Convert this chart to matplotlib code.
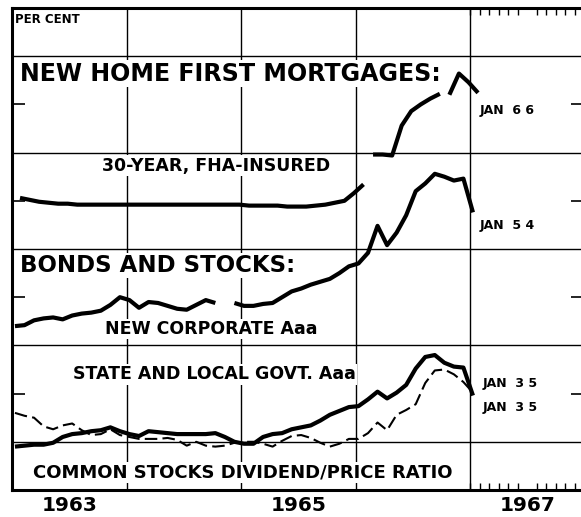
import numpy as np
import matplotlib
matplotlib.use("Agg")
import matplotlib.pyplot as plt

# ---- data: monthly, Jan 1963 .. Jan 1967 (per cent) ----
months = np.arange(49)

mortgage = [5.53, 5.51, 5.49, 5.48, 5.47, 5.47, 5.46, 5.46, 5.46, 5.46, 5.46, 5.46,
            5.46, 5.46, 5.46, 5.46, 5.46, 5.46, 5.46, 5.46, 5.46, 5.46, 5.46, 5.46,
            5.45, 5.45, 5.45, 5.45, 5.44, 5.44, 5.44, 5.45, 5.46, 5.48, 5.50, 5.58,
            5.67, 5.98, 5.98, 5.97, 6.28, 6.43, 6.50, 6.56, 6.61, 6.60, 6.82, 6.73,
            6.62]
mortgage_segments = [(0, 36), (37, 44), (45, 48)]

corporate = [4.20, 4.21, 4.26, 4.28, 4.29, 4.27, 4.31, 4.33, 4.34, 4.36, 4.42, 4.50,
             4.47, 4.39, 4.45, 4.44, 4.41, 4.38, 4.37, 4.42, 4.47, 4.44, np.nan, 4.44,
             4.41, 4.41, 4.43, 4.44, 4.50, 4.56, 4.59, 4.63, 4.66, 4.69, 4.75, 4.82,
             4.85, 4.96, 5.24, 5.04, 5.17, 5.35, 5.60, 5.68, 5.78, 5.75, 5.71, 5.73,
             5.38]

state_local = [2.95, 2.96, 2.97, 2.97, 2.99, 3.05, 3.08, 3.09, 3.11, 3.12, 3.15, 3.11,
               3.08, 3.06, 3.11, 3.10, 3.09, 3.08, 3.08, 3.08, 3.08, 3.09, 3.05, 3.00,
               2.98, 2.98, 3.05, 3.08, 3.09, 3.13, 3.15, 3.17, 3.22, 3.28, 3.32, 3.36,
               3.37, 3.44, 3.52, 3.45, 3.51, 3.59, 3.76, 3.88, 3.90, 3.82, 3.78, 3.77,
               3.48]

dividend = [3.30, 3.27, 3.25, 3.16, 3.13, 3.17, 3.19, 3.12, 3.07, 3.08, 3.13, 3.07,
            3.05, 3.03, 3.03, 3.03, 3.04, 3.02, 2.96, 3.00, 2.96, 2.95, 2.96, 2.99,
            3.00, 3.00, 2.98, 2.95, 3.01, 3.06, 3.07, 3.04, 2.99, 2.95, 2.98, 3.03,
            3.03, 3.09, 3.20, 3.12, 3.28, 3.33, 3.39, 3.61, 3.74, 3.75, 3.70, 3.62,
            3.51]

year_labels = ["1963", "1965", "1967"]
year_label_pos = [1963.5, 1965.5, 1967.5]
grid_years = [1964, 1965, 1966, 1967]
grid_pct = [3, 4, 5, 6, 7]
mid_ticks = [3.5, 4.5, 5.5, 6.5]

plt.rcParams['font.family'] = ['DejaVu Sans']

fig = plt.figure(figsize=(5.81, 5.17), dpi=100)
ax = fig.add_axes([12 / 581, 27 / 517, 572.5 / 581, 482 / 517])
ax.set_xlim(1963, 1968)
ax.set_ylim(2.5, 7.5)


def xpos(idx, off=0.31):
    return 1963 + (np.asarray(idx, dtype=float) + off) / 12.0


# frame
for s in ['left', 'top', 'bottom']:
    ax.spines[s].set_linewidth(2.2)
ax.spines['right'].set_visible(False)

# grid
for g in grid_pct:
    ax.axhline(g, color='black', lw=1.0, zorder=1)
for g in grid_years:
    ax.axvline(g, color='black', lw=1.0, zorder=1)

# ticks
ax.set_yticks(mid_ticks)
ax.set_yticklabels([])
ax.tick_params(axis='y', which='major', direction='in', length=9.5, width=1.2,
               left=True, right=True, labelleft=False)
ax.set_xticks(year_label_pos)
ax.set_xticklabels(year_labels, fontsize=14.5, fontweight='bold')
ax.tick_params(axis='x', which='major', length=0, pad=4)
ax.set_xticks(1967 + np.arange(13) / 12.0, minor=True)
ax.tick_params(axis='x', which='minor', direction='in', length=5, width=1.0,
               top=True, bottom=True)

# series
for a, b in mortgage_segments:
    idx = months[a:b + 1]
    ax.plot(xpos(idx, 0.84), mortgage[a:b + 1], color='black', lw=3.0,
            solid_capstyle='butt', solid_joinstyle='round', zorder=3)
ax.plot(xpos(months), corporate, color='black', lw=3.0,
        solid_capstyle='butt', solid_joinstyle='round', zorder=3)
ax.plot(xpos(months), state_local, color='black', lw=3.0,
        solid_capstyle='butt', solid_joinstyle='round', zorder=3)
ax.plot(xpos(months), dividend, color='black', lw=1.5, dashes=(6, 2.5), zorder=3)

box = dict(facecolor='white', edgecolor='none', pad=1.0)
tkw = dict(fontweight='bold', va='center', ha='left', zorder=2.5, bbox=box)

ax.text(1963.026, 7.38, "PER CENT", fontsize=8.5, **tkw)
ax.text(1963.07, 6.82, "NEW HOME FIRST MORTGAGES:", fontsize=17.1, **tkw)
ax.text(1963.786, 5.866, "30-YEAR, FHA-INSURED", fontsize=12.5, **tkw)
ax.text(1963.07, 4.83, "BONDS AND STOCKS:", fontsize=16.5, **tkw)
ax.text(1963.81, 4.17, "NEW CORPORATE Aaa", fontsize=12.5, **tkw)
ax.text(1963.53, 3.70, "STATE AND LOCAL GOVT. Aaa", fontsize=12.5, **tkw)
ax.text(1963.18, 2.68, "COMMON STOCKS DIVIDEND/PRICE RATIO", fontsize=13, **tkw)

ax.text(1967.087, 6.44, "JAN  6 6", fontsize=9, **tkw)
ax.text(1967.087, 5.24, "JAN  5 4", fontsize=9, **tkw)
ax.text(1967.11, 3.60, "JAN  3 5", fontsize=9, **tkw)
ax.text(1967.11, 3.36, "JAN  3 5", fontsize=9, **tkw)

fig.savefig("out.png", dpi=100)
